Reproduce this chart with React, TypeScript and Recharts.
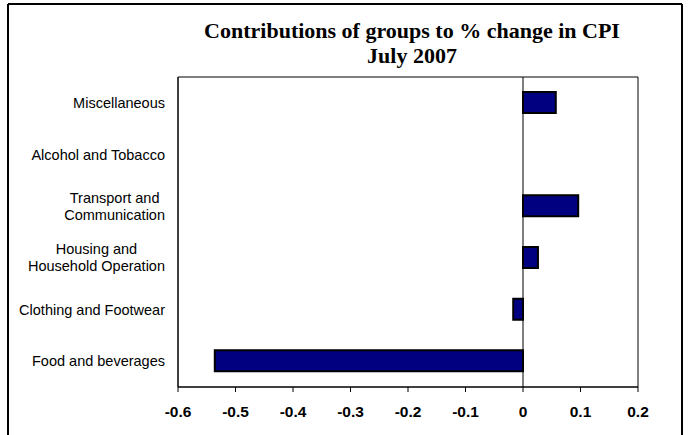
import React from "react";
import { BarChart, Bar, XAxis, YAxis, ReferenceLine, ReferenceArea } from "recharts";

const categories = [
  "Miscellaneous",
  "Alcohol and Tobacco",
  "Transport and\nCommunication",
  "Housing and\nHousehold Operation",
  "Clothing and Footwear",
  "Food and beverages",
];
const contributions = [0.057, 0, 0.096, 0.026, -0.017, -0.536];
const xTicks = [-0.6, -0.5, -0.4, -0.3, -0.2, -0.1, 0, 0.1, 0.2];
const titleLines = ["Contributions of groups to % change in CPI", "July 2007"];

const data = categories.map((c, i) => ({ name: c, value: contributions[i] }));

const LABEL_SIZE = 14.5;
const SANS = "'Liberation Sans', Arial, sans-serif";
const SERIF = "'Liberation Serif', 'Times New Roman', serif";
let ctx: CanvasRenderingContext2D | null = null;
function measure(t: string): number {
  if (!ctx) {
    const c = document.createElement("canvas");
    ctx = c.getContext("2d");
  }
  if (!ctx) return t.length * 7.5;
  ctx.font = `${LABEL_SIZE}px ${SANS}`;
  return ctx.measureText(t).width;
}

const CategoryTick = (props: any) => {
  const { x, y, payload } = props;
  const lines: string[] = String(payload.value).split("\n");
  const right = x - 5;
  const lh = 17;
  if (lines.length === 1) {
    return (
      <text x={right} y={y} dy="0.35em" textAnchor="end" fontSize={LABEL_SIZE}
        fontFamily={SANS} fill="#000">
        {lines[0]}
      </text>
    );
  }
  const maxW = Math.max(...lines.map(measure));
  const cx = right - maxW / 2;
  const start = y - ((lines.length - 1) * lh) / 2;
  return (
    <text textAnchor="middle" fontSize={LABEL_SIZE} fontFamily={SANS} fill="#000">
      {lines.map((l, i) => (
        <tspan key={i} x={cx} y={start + i * lh} dy="0.35em">{l}</tspan>
      ))}
    </text>
  );
};

const fmt = (v: number) => (Math.abs(v) < 1e-9 ? "0" : String(Math.round(v * 10) / 10));

export default function App() {
  return (
    <div style={{ position: "absolute", left: 0, top: 0, width: 689, height: 435, background: "#fff" }}>
      <BarChart
        width={689}
        height={435}
        data={data}
        layout="vertical"
        margin={{ top: 77, right: 51, left: 0, bottom: 18 }}
        barCategoryGap="57%"
      >
        <line x1={8} y1={4} x2={682} y2={4} stroke="#000" strokeWidth={2} />
        <line x1={8} y1={4} x2={8} y2={435} stroke="#000" strokeWidth={2} />
        <line x1={682} y1={4} x2={682} y2={435} stroke="#000" strokeWidth={2} />
        <text x={412} y={38} textAnchor="middle" fontFamily={SERIF}
          fontWeight="bold" fontSize={22} fill="#000">
          {titleLines[0]}
        </text>
        <text x={412} y={63} textAnchor="middle" fontFamily={SERIF}
          fontWeight="bold" fontSize={22} fill="#000">
          {titleLines[1]}
        </text>
        <XAxis
          type="number"
          domain={[-0.6, 0.2]}
          ticks={xTicks}
          tickFormatter={fmt}
          allowDataOverflow
          axisLine={{ stroke: "#000", strokeWidth: 1 }}
          tickLine={{ stroke: "#000" }}
          tickSize={5}
          tick={{ fill: "#000", fontSize: 15.5, fontWeight: "bold", fontFamily: SANS }}
          tickMargin={14}
          height={30}
        />
        <YAxis
          type="category"
          dataKey="name"
          width={178}
          axisLine={{ stroke: "#000", strokeWidth: 1 }}
          tickLine={false}
          tick={<CategoryTick />}
          interval={0}
        />
        <ReferenceArea x1={-0.6} x2={0.2} fill="none" stroke="#000" strokeWidth={1} ifOverflow="visible" />
        <ReferenceLine x={0} stroke="#000" strokeWidth={1} />
        <Bar dataKey="value" fill="#000080" stroke="#000" strokeWidth={2} barSize={21} isAnimationActive={false} />
      </BarChart>
    </div>
  );
}
